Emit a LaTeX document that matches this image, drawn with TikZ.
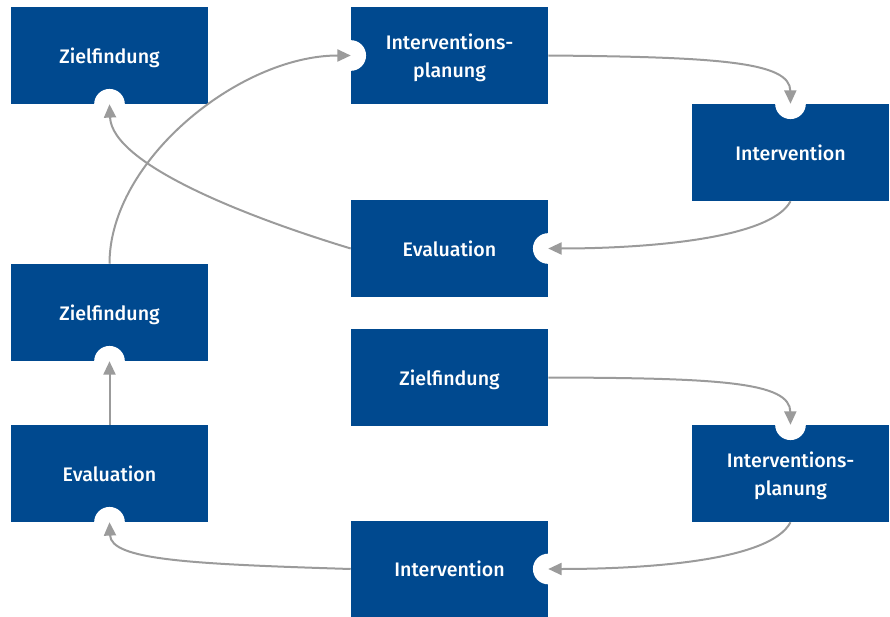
\documentclass[tikz,border=0pt]{standalone}
\usepackage{fontspec}
\setmainfont{Fira Sans}[UprightFont={* Medium}]
\usetikzlibrary{arrows.meta}
\definecolor{boxblue}{HTML}{00498F}
\definecolor{arrowgrey}{HTML}{9B9B9B}
\tikzset{
  phase/.style={fill=boxblue, text=white, minimum width=147.75pt, minimum height=72.75pt,
    inner sep=0pt, align=center, text depth=0pt, font=\fontsize{14.7}{21}\selectfont},
  notch/.style={fill=white, draw=none},
  flow/.style={draw=arrowgrey, line width=1.5pt, -{Triangle[length=10pt,width=9pt]}}
}
\begin{document}
\begin{tikzpicture}[x=0.75pt,y=-0.75pt]
  \useasboundingbox (0,0) rectangle (890,617);
  % first cycle
  \node[phase] (ziel1) at (109.5,55.5) {Zielfindung};
  \node[phase] (plan1) at (449.5,55.5) {Interventions-\\planung};
  \node[phase] (int1) at (790.5,152.5) {Intervention};
  \node[phase] (eval1) at (449.5,248.5) {Evaluation};
  % second cycle
  \node[phase] (ziel2) at (109.5,312.5) {Zielfindung};
  \node[phase] (eval2) at (109.5,473.5) {Evaluation};
  \node[phase] (ziel3) at (449.5,377.5) {Zielfindung};
  \node[phase] (plan2) at (790.5,473.5) {Interventions-\\planung};
  \node[phase] (int2) at (449.5,569) {Intervention};
  % notches where the arrows end
  \foreach \n in {ziel1.south, plan1.west, int1.north, eval1.east,
                  ziel2.south, eval2.south, plan2.north, int2.east}
    \fill[notch] (\n) circle (11.5pt);
  % arrows
  \draw[flow] (ziel2.north) .. controls (109.5,160) and (240,55.5) .. (plan1.west);
  \draw[flow] (plan1.east) .. controls (720,57) and (790,62) .. (int1.north);
  \draw[flow] (int1.south) .. controls (770,240) and (640,248.5) .. (eval1.east);
  \draw[flow] (eval1.west) .. controls (250,218) and (112,165) .. (ziel1.south);
  \draw[flow] (eval2.north) -- (ziel2.south);
  \draw[flow] (ziel3.east) .. controls (720,378) and (790,382) .. (plan2.north);
  \draw[flow] (plan2.south) .. controls (770,562) and (640,569) .. (int2.east);
  \draw[flow] (int2.west) .. controls (190,564) and (111,560) .. (eval2.south);
\end{tikzpicture}
\end{document}
